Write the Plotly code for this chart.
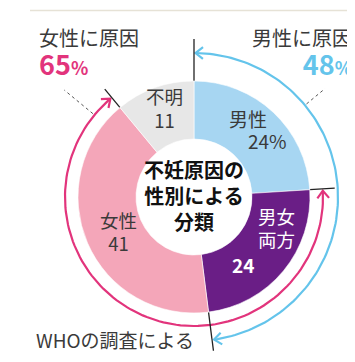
import math
import plotly.graph_objects as go

# ---------------- data ----------------
categories = ["男性", "男女両方", "女性", "不明"]
values = [24, 24, 41, 11]
slice_label_lines = [["男性", "24%"], ["男女", "両方"], ["女性", "41"], ["不明", "11"]]
both_value_label = "24"
female_cause_title = "女性に原因"
female_cause_pct = 65
male_cause_title = "男性に原因"
male_cause_pct = 48
center_title_lines = ["不妊原因の", "性別による", "分類"]
source_note = "WHOの調査による"

# ---------------- styles ----------------
W, H = 355, 362
CX, CY, R = 186, 189, 116
HOLE = 0.5
FONT = "Noto Sans CJK JP"
TXT = "#3a3a3a"
slice_colors = ["#a7d6f2", "#6a1e86", "#f4a6b9", "#e7e7e7"]
MAGENTA = "#e2347c"
SKY = "#64c4eb"

# cumulative boundary angles (degrees, clockwise from 12 o'clock)
total = sum(values)
bounds = [0.0]
for v in values:
    bounds.append(bounds[-1] + 360.0 * v / total)


def pt(theta_deg, r):
    t = math.radians(theta_deg)
    return CX + r * math.sin(t), CY - r * math.cos(t)


def arc(t0, t1, r, n=120):
    xs, ys = [], []
    for i in range(n + 1):
        x, y = pt(t0 + (t1 - t0) * i / n, r)
        xs.append(x)
        ys.append(y)
    return xs, ys


def chevron(theta_deg, r, sign, L=9.5, spread=38):
    t = math.radians(theta_deg)
    dx, dy = math.cos(t) * sign, math.sin(t) * sign
    tx, ty = pt(theta_deg, r)
    xs, ys = [], []
    for s in (spread, -spread):
        a = math.radians(s)
        bx = -(dx * math.cos(a) - dy * math.sin(a))
        by = -(dx * math.sin(a) + dy * math.cos(a))
        xs.append(tx + L * bx)
        ys.append(ty + L * by)
    return [xs[0], tx, xs[1]], [ys[0], ty, ys[1]]


fig = go.Figure()

fig.add_trace(go.Pie(
    labels=categories, values=values, sort=False, direction="clockwise",
    rotation=0, hole=HOLE, textinfo="none", hoverinfo="skip",
    marker=dict(colors=slice_colors, line=dict(color="#ffffff", width=0.6)),
    domain=dict(x=[(CX - R) / W, (CX + R) / W],
                y=[(H - CY - R) / H, (H - CY + R) / H]),
    showlegend=False,
))

# male arc (sky blue) across male + both
ma0, ma1 = bounds[0] + 0.6, bounds[2] - 0.8
xs, ys = arc(ma0, ma1, 144)
fig.add_trace(go.Scatter(x=xs, y=ys, mode="lines", line=dict(color=SKY, width=2.2),
                         hoverinfo="skip", showlegend=False))
for th, sg in ((ma0, -1), (ma1, 1)):
    cx_, cy_ = chevron(th, 144, sg)
    fig.add_trace(go.Scatter(x=cx_, y=cy_, mode="lines", line=dict(color=SKY, width=2.2),
                             hoverinfo="skip", showlegend=False))

# female arc (magenta) across both + female
fa0, fa1 = bounds[1] + 0.8, bounds[3] - 0.8
xs, ys = arc(fa0, fa1, 129)
fig.add_trace(go.Scatter(x=xs, y=ys, mode="lines", line=dict(color=MAGENTA, width=2.2),
                         hoverinfo="skip", showlegend=False))
for th, sg in ((fa0, -1), (fa1, 1)):
    cx_, cy_ = chevron(th, 129, sg)
    fig.add_trace(go.Scatter(x=cx_, y=cy_, mode="lines", line=dict(color=MAGENTA, width=2.2),
                             hoverinfo="skip", showlegend=False))

# boundary tick lines
tick_len = {0: 158, 1: 141, 2: 155, 3: 140}
for i, rr in tick_len.items():
    x0, y0 = pt(bounds[i], R)
    x1, y1 = pt(bounds[i], rr)
    fig.add_trace(go.Scatter(x=[x0, x1], y=[y0, y1], mode="lines",
                             line=dict(color="#222222", width=1.3),
                             hoverinfo="skip", showlegend=False))

# dotted leader lines
for th, r0, r1 in ((309.5, 131, 168), (50.4, 146, 170)):
    x0, y0 = pt(th, r0)
    x1, y1 = pt(th, r1)
    fig.add_trace(go.Scatter(x=[x0, x1], y=[y0, y1], mode="lines",
                             line=dict(color="#555555", width=1, dash="dot"),
                             hoverinfo="skip", showlegend=False))

# top rule
fig.add_trace(go.Scatter(x=[22, 355], y=[2.5, 2.5], mode="lines",
                         line=dict(color="#e6e2d6", width=1.5),
                         hoverinfo="skip", showlegend=False))

ann = []


def add_text(x, y, text, size, color=TXT, xanchor="center", align="center"):
    ann.append(dict(x=x, y=y, xref="x", yref="y", text=text, showarrow=False,
                    xanchor=xanchor, yanchor="middle", align=align,
                    font=dict(family=FONT, size=size, color=color)))


def stacked(lines, glyph_px, color=None):
    parts = []
    for ln in lines:
        st = f"font-size:{glyph_px}px"
        if color:
            st += f";color:{color}"
        parts.append(f"<span style='{st}'>{ln}</span>")
    return "<br>".join(parts)


# slice labels
add_text(240, 110, slice_label_lines[0][0], 19)
add_text(259, 132, slice_label_lines[0][1], 19)
add_text(268, 219, stacked(slice_label_lines[1], 18.5), 17.4, color="#ffffff")
add_text(235, 256, "<b>" + both_value_label + "</b>", 19, color="#ffffff")
add_text(110, 223, stacked(slice_label_lines[2], 18.5), 17.4)
add_text(156, 100, "<br>".join(slice_label_lines[3]), 18.5)
# center title
add_text(186, 187, "<b>" + "<br>".join(center_title_lines) + "</b>", 20, color="#111111")


def heading(title, pct, color):
    return (f"<span style='font-size:20px;color:{TXT}'>{title}</span><br>"
            f"<b><span style='font-size:27px;color:{color}'>{pct}</span>"
            f"<span style='font-size:18px;color:{color}'>%</span></b>")


# outer headings
add_text(29, 45, heading(female_cause_title, female_cause_pct, MAGENTA), 22.5,
         xanchor="left", align="left")
add_text(346, 45, heading(male_cause_title, male_cause_pct, SKY), 22.5,
         xanchor="right", align="right")
add_text(107, 331, source_note, 19)

fig.update_layout(
    width=W, height=H, margin=dict(l=0, r=0, t=0, b=0),
    paper_bgcolor="#ffffff", plot_bgcolor="#ffffff",
    xaxis=dict(range=[0, W], visible=False, fixedrange=True, domain=[0, 1]),
    yaxis=dict(range=[H, 0], visible=False, fixedrange=True, domain=[0, 1]),
    annotations=ann, showlegend=False,
)

fig.write_html("out.html")
